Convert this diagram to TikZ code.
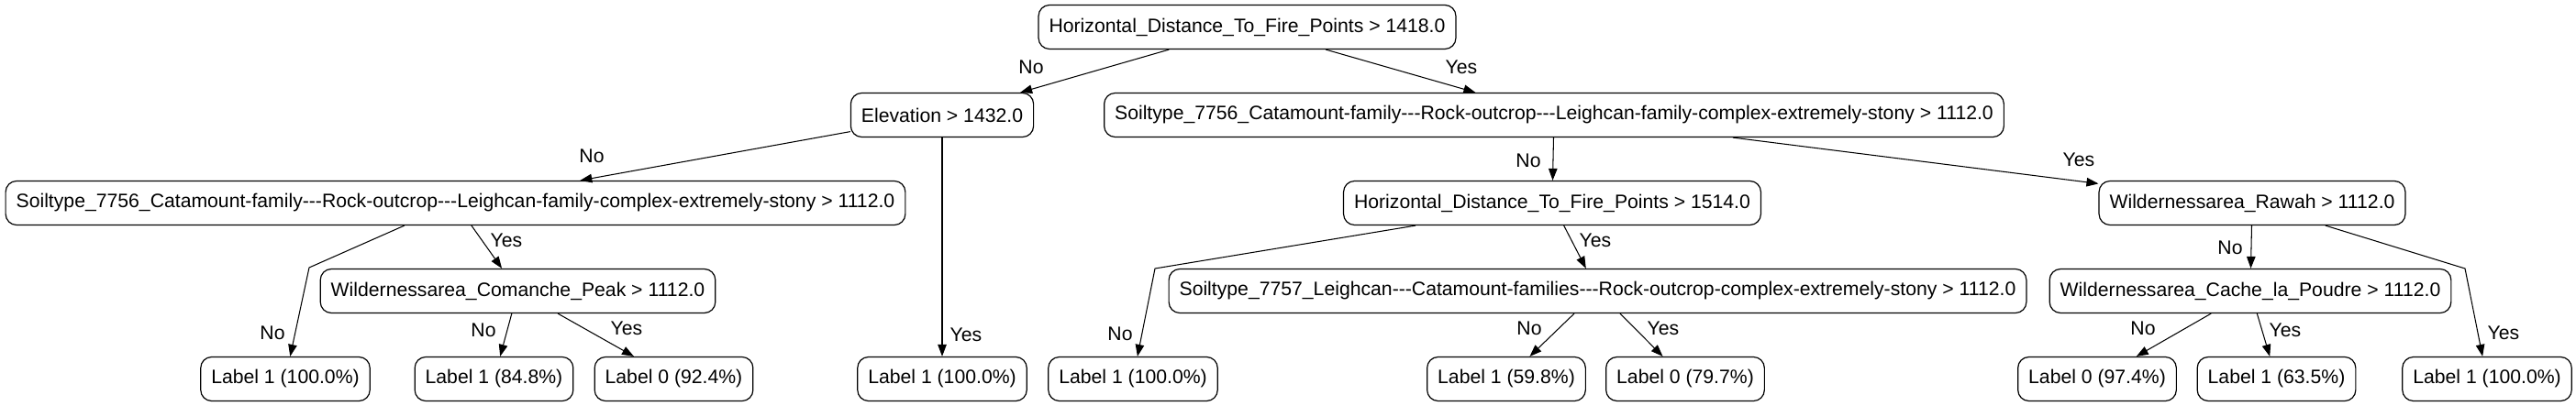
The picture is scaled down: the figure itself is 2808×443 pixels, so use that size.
\documentclass[tikz,border=0pt]{standalone}
\usepackage{fontspec}
\setmainfont{Liberation Sans}
\usetikzlibrary{arrows.meta}
\newcommand\dd{-\hbox{-}-}
\begin{document}
\begin{tikzpicture}[x=1pt,y=-1pt,
  box/.style={draw, line width=1.2pt, rounded corners=12pt, minimum height=48pt,
    inner xsep=11.5pt, inner ysep=0pt, font=\fontsize{21.2}{25}\selectfont},
  lab/.style={inner sep=0pt, font=\fontsize{21.2}{25}\selectfont},
  conn/.style={line width=1.05pt, -{Triangle[length=13pt,width=9.5pt]}}]
\useasboundingbox (0,0) rectangle (2808,443);
% decision nodes
\node[box] (root) at (1359.5,29.5) {Horizontal\_Distance\_To\_Fire\_Points > 1418.0};
\node[box] (elev) at (1027,125.5) {Elevation > 1432.0};
\node[box] (sr) at (1694,125.5) {Soiltype\_7756\_Catamount-family\dd Rock-outcrop\dd Leighcan-family-complex-extremely-stony > 1112.0};
\node[box] (sl) at (496.5,221.5) {Soiltype\_7756\_Catamount-family\dd Rock-outcrop\dd Leighcan-family-complex-extremely-stony > 1112.0};
\node[box] (h2) at (1692,221.5) {Horizontal\_Distance\_To\_Fire\_Points > 1514.0};
\node[box] (raw) at (2455,221.5) {Wildernessarea\_Rawah > 1112.0};
\node[box] (com) at (564.5,317.5) {Wildernessarea\_Comanche\_Peak > 1112.0};
\node[box] (s57) at (1741.5,317.5) {Soiltype\_7757\_Leighcan\dd Catamount-families\dd Rock-outcrop-complex-extremely-stony > 1112.0};
\node[box] (cache) at (2453,317.5) {Wildernessarea\_Cache\_la\_Poudre > 1112.0};
% leaves
\node[box] (la) at (311,413.5) {Label 1 (100.0\%)};
\node[box] (lb) at (538.5,413.5) {Label 1 (84.8\%)};
\node[box] (lc) at (734.5,413.5) {Label 0 (92.4\%)};
\node[box] (ld) at (1027,413.5) {Label 1 (100.0\%)};
\node[box] (le) at (1235,413.5) {Label 1 (100.0\%)};
\node[box] (lf) at (1642,413.5) {Label 1 (59.8\%)};
\node[box] (lg) at (1837,413.5) {Label 0 (79.7\%)};
\node[box] (lh) at (2286,413.5) {Label 0 (97.4\%)};
\node[box] (li) at (2481.5,413.5) {Label 1 (63.5\%)};
\node[box] (lj) at (2711,413.5) {Label 1 (100.0\%)};
% bend points
\coordinate (b1) at (337,292);
\coordinate (b2) at (1259,293);
\coordinate (b3) at (2687,293);
% connectors
\draw[conn] (root) -- (elev);
\draw[conn] (root) -- (sr);
\draw[conn] (elev) -- (sl);
\draw[conn] (elev) -- (ld);
\draw[conn] (sr) -- (h2);
\draw[conn] (sr) -- (raw);
\draw[conn] (sl) -- (b1) -- (la);
\draw[conn] (sl) -- (com);
\draw[conn] (com) -- (lb);
\draw[conn] (com) -- (lc);
\draw[conn] (h2) -- (b2) -- (le);
\draw[conn] (h2) -- (s57);
\draw[conn] (s57) -- (lf);
\draw[conn] (s57) -- (lg);
\draw[conn] (raw) -- (cache);
\draw[conn] (raw) -- (b3) -- (lj);
\draw[conn] (cache) -- (lh);
\draw[conn] (cache) -- (li);
% edge labels
\node[lab] (t1) at (1124,73) {No};
\node[lab] (t2) at (1593,73) {Yes};
\node[lab] (t3) at (645,170) {No};
\node[lab] (t4) at (1053,365) {Yes};
\node[lab] (t5) at (1666,175) {No};
\node[lab] (t6) at (2266,174) {Yes};
\node[lab] (t7) at (297,363) {No};
\node[lab] (t8) at (552,262) {Yes};
\node[lab] (t9) at (527,360) {No};
\node[lab] (t10) at (683,358) {Yes};
\node[lab] (t11) at (1221,364) {No};
\node[lab] (t12) at (1739,262) {Yes};
\node[lab] (t13) at (1667,358) {No};
\node[lab] (t14) at (1813,358) {Yes};
\node[lab] (t15) at (2431,270) {No};
\node[lab] (t16) at (2729,363) {Yes};
\node[lab] (t17) at (2336,358) {No};
\node[lab] (t18) at (2491,360) {Yes};
\end{tikzpicture}
\end{document}
